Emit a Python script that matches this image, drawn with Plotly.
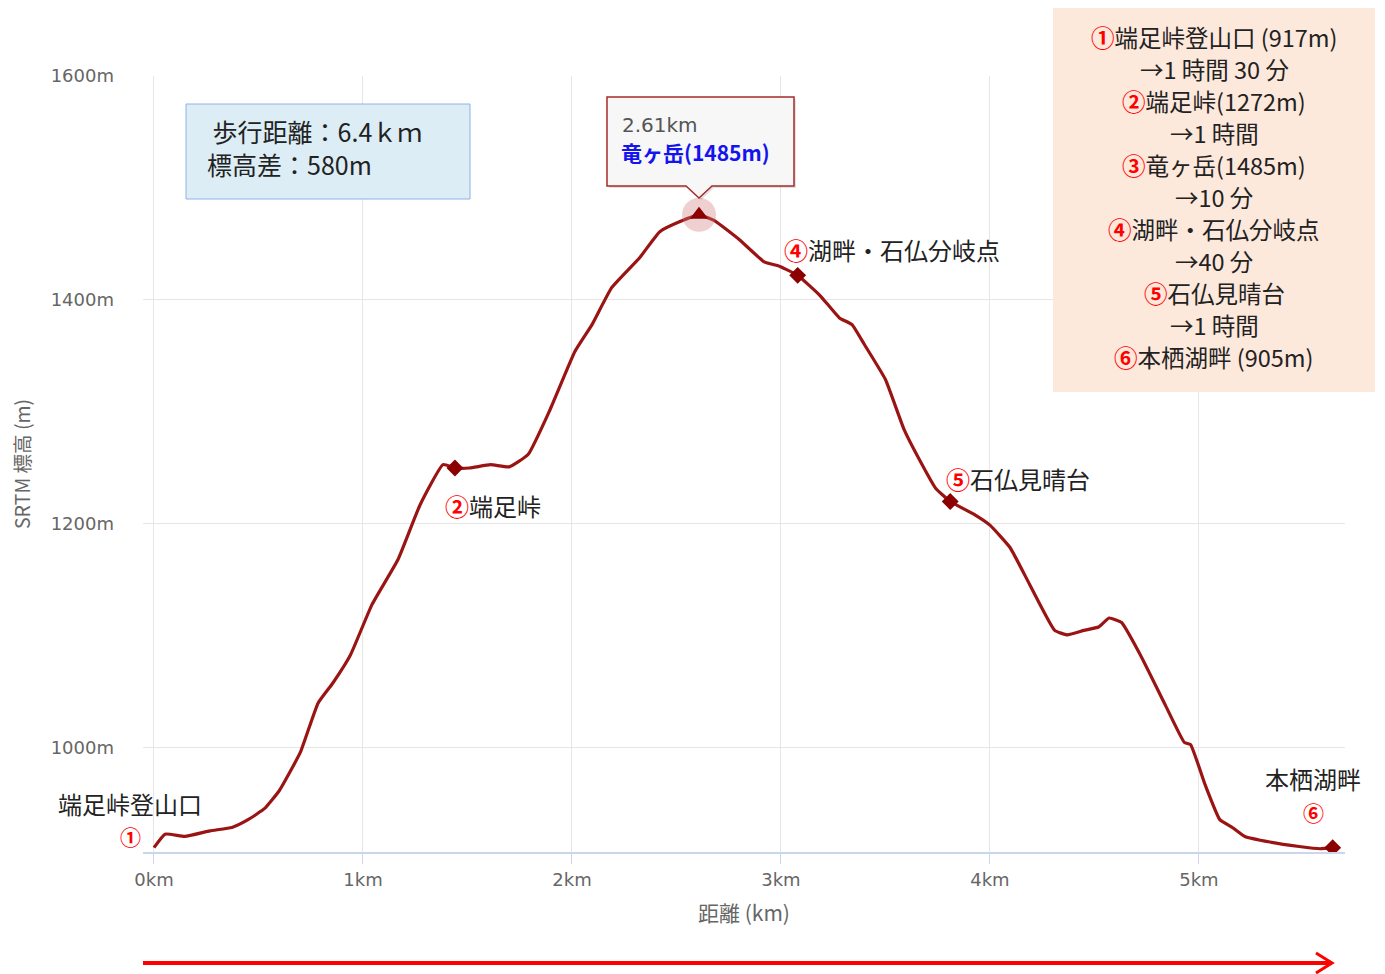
import plotly.graph_objects as go

# ---- data ----
dist_km = [0.0, 0.053, 0.148, 0.268, 0.373, 0.45, 0.53, 0.60, 0.70, 0.785, 0.856, 0.94,
           1.043, 1.167, 1.273, 1.383, 1.44, 1.51, 1.61, 1.70, 1.79, 1.895, 2.014, 2.096,
           2.19, 2.325, 2.42, 2.517, 2.608, 2.68, 2.80, 2.92, 2.995, 3.08, 3.187, 3.28,
           3.34, 3.40, 3.50, 3.59, 3.69, 3.74, 3.81, 3.93, 4.0, 4.096, 4.19, 4.31, 4.37,
           4.45, 4.52, 4.57, 4.63, 4.72, 4.84, 4.93, 4.96, 5.03, 5.10, 5.16, 5.22, 5.34,
           5.48, 5.58, 5.64]
elev_m = [911, 923, 921, 926, 929, 936, 946, 962, 996, 1040, 1058, 1083,
          1128, 1168, 1217, 1253, 1250, 1250, 1253, 1251, 1262, 1302, 1354, 1378,
          1411, 1438, 1461, 1470, 1476, 1471, 1454, 1434, 1430, 1422, 1404, 1384,
          1378, 1360, 1329, 1284, 1248, 1232, 1220, 1208, 1199, 1179, 1146, 1105, 1101,
          1105, 1108, 1116, 1112, 1083, 1038, 1005, 1003, 967, 936, 929, 921, 916,
          912, 910, 911]

wp_km = [1.44, 3.08, 3.81, 5.64]
wp_m = [1250, 1422, 1220, 911]
peak_km = [2.608]
peak_m = [1476]

x_ticks = [0, 1, 2, 3, 4, 5]
x_ticktext = ["0km", "1km", "2km", "3km", "4km", "5km"]
y_ticks = [1000, 1200, 1400, 1600]
y_ticktext = ["1000m", "1200m", "1400m", "1600m"]

summary_lines = [
    "<span style='color:#ff0000'><b>①</b></span>端足峠登山口 (917m)",
    "→1 時間 30 分",
    "<span style='color:#ff0000'><b>②</b></span>端足峠(1272m)",
    "→1 時間",
    "<span style='color:#ff0000'><b>③</b></span>竜ヶ岳(1485m)",
    "→10 分",
    "<span style='color:#ff0000'><b>④</b></span>湖畔・石仏分岐点",
    "→40 分",
    "<span style='color:#ff0000'><b>⑤</b></span>石仏見晴台",
    "→1 時間",
    "<span style='color:#ff0000'><b>⑥</b></span>本栖湖畔 (905m)",
]

# ---- layout helpers (reference pixel -> paper) ----
W, H = 1385, 974
OFF = 8  # page body margin
L, R, T, B = 143, 1345, 76, 852
def px(x):
    return (x - L) / (R - L)
def py(y):
    return (B - y) / (B - T)

JP = "Noto Sans CJK JP"
fig = go.Figure()

fig.add_trace(go.Scatter(x=dist_km, y=elev_m, mode="lines",
                         line=dict(color="#9b1414", width=3.2, shape="spline", smoothing=0.4),
                         hoverinfo="skip", showlegend=False))
fig.add_trace(go.Scatter(x=wp_km, y=wp_m, mode="markers",
                         marker=dict(symbol="diamond", size=13, color="#8b0000"),
                         hoverinfo="skip", showlegend=False))
fig.add_trace(go.Scatter(x=peak_km, y=peak_m, mode="markers",
                         marker=dict(symbol="circle", size=34, color="rgba(205,120,120,0.35)"),
                         hoverinfo="skip", showlegend=False))
fig.add_trace(go.Scatter(x=peak_km, y=peak_m, mode="markers",
                         marker=dict(symbol="triangle-up", size=16, color="#8b0000"),
                         hoverinfo="skip", showlegend=False))

shapes = []
shapes.append(dict(type="rect", xref="paper", yref="paper", x0=px(1053), x1=px(1375),
                   y0=py(392), y1=py(8), fillcolor="#fde8dc", line=dict(width=0), layer="above"))
shapes.append(dict(type="rect", xref="paper", yref="paper", x0=px(186), x1=px(470),
                   y0=py(199), y1=py(104), fillcolor="#dcedf5",
                   line=dict(color="#8fb2e6", width=1), layer="above"))
def tip_path(dx, dy):
    pts = [(607, 97), (794, 97), (794, 186), (712, 186), (699, 198), (686, 186), (607, 186)]
    return "M " + " L ".join(f"{px(a+dx):.5f},{py(b+dy):.5f}" for a, b in pts) + " Z"
shapes.append(dict(type="path", xref="paper", yref="paper", path=tip_path(2, 2),
                   fillcolor="rgba(0,0,0,0.12)", line=dict(width=0), layer="above"))
shapes.append(dict(type="path", xref="paper", yref="paper", path=tip_path(0, 0),
                   fillcolor="#f7f7f7", line=dict(color="#a52a2a", width=1.5), layer="above"))
shapes.append(dict(type="line", xref="paper", yref="paper", x0=px(143), x1=px(1331),
                   y0=py(963), y1=py(963), line=dict(color="#ff0000", width=4)))
shapes.append(dict(type="path", xref="paper", yref="paper",
                   path=f"M {px(1316)},{py(953)} L {px(1332)},{py(963)} L {px(1316)},{py(973)}",
                   line=dict(color="#ff0000", width=3)))

ann = []
def add_text(text, x, y, size, color="#222222", xanchor="center", family=JP, angle=0):
    ann.append(dict(text=text, x=px(x), y=py(y), xref="paper", yref="paper",
                    xanchor=xanchor, yanchor="middle", showarrow=False, textangle=angle,
                    font=dict(family=family, size=size, color=color)))

for i, line in enumerate(summary_lines):
    add_text(line, 1214, 37 + 32 * i, 23.5)

add_text(" 歩行距離：6.4ｋｍ", 205, 131, 25, xanchor="left")
add_text("標高差：580m", 205, 164, 25, xanchor="left")

add_text("2.61km", 620, 125, 20, "#555555", "left", "DejaVu Sans")
add_text("<b>竜ヶ岳(1485m)</b>", 619, 152, 21, "#1414ee", "left")

add_text("端足峠登山口", 130, 803, 24)
add_text("<b>①</b>", 130, 836, 21, "#ff0000")
add_text("<span style='color:#ff0000'><b>②</b></span>端足峠", 443, 505, 24, xanchor="left")
add_text("<span style='color:#ff0000'><b>④</b></span>湖畔・石仏分岐点", 782, 249, 24, xanchor="left")
add_text("<span style='color:#ff0000'><b>⑤</b></span>石仏見晴台", 944, 479, 24, xanchor="left")
add_text("本栖湖畔", 1313, 778, 24)
add_text("<b>⑥</b>", 1313, 812, 21, "#ff0000")

add_text("距離 (km)", 744, 912, 21, "#666666")
add_text("SRTM 標高 (m)", 21, 464, 19.5, "#666666", angle=-90)

fig.update_layout(
    width=W - OFF, height=H - OFF, autosize=False,
    margin=dict(l=L - OFF, r=W - R, t=T - OFF, b=H - B),
    paper_bgcolor="white", plot_bgcolor="white",
    shapes=shapes, annotations=ann, showlegend=False,
    xaxis=dict(range=[-0.0526, 5.699], tickvals=x_ticks, ticktext=x_ticktext,
               showgrid=True, gridcolor="#e6e6e6", gridwidth=1, zeroline=False,
               showline=True, linecolor="#ccd6eb", linewidth=2,
               ticks="outside", ticklen=10, tickcolor="#ccd6eb",
               tickfont=dict(family="DejaVu Sans", size=18, color="#666666")),
    yaxis=dict(range=[907.1, 1600], tickvals=y_ticks, ticktext=y_ticktext,
               showgrid=True, gridcolor="#e6e6e6", gridwidth=1, zeroline=False,
               showline=False, ticks="", ticklabelstandoff=28,
               tickfont=dict(family="DejaVu Sans", size=18, color="#666666")),
)

fig.write_html("out.html")
